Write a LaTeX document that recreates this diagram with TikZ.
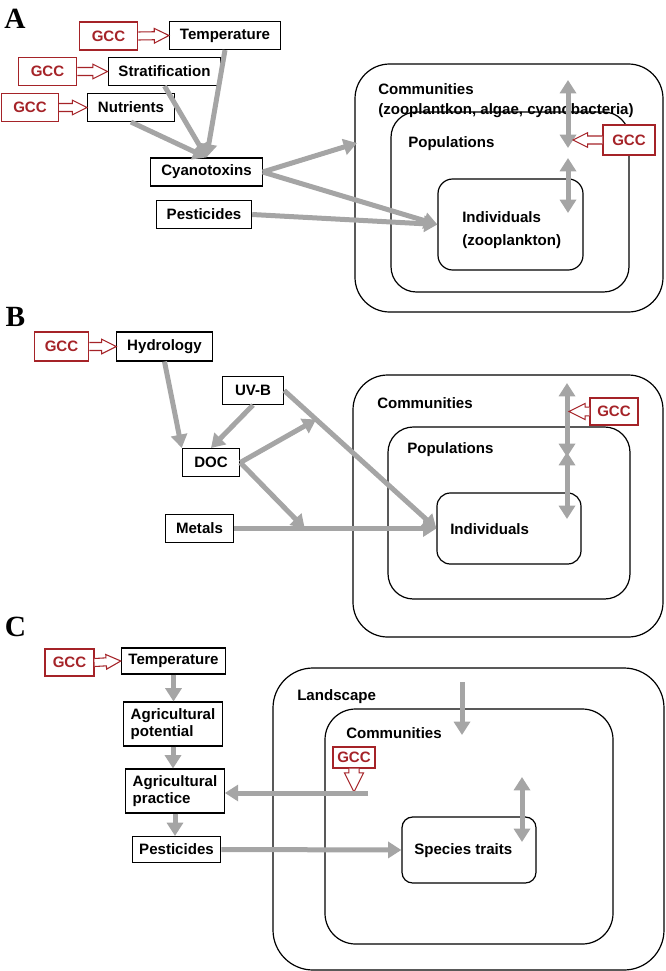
\documentclass[tikz,border=0pt]{standalone}
\usepackage{fontspec}
\setmainfont{Liberation Sans}
\newfontfamily\letterfont{Liberation Serif}
\usetikzlibrary{arrows.meta,calc,fit}

\definecolor{gccred}{RGB}{165,35,40}
\definecolor{flowgray}{RGB}{165,165,165}

% hollow GCC arrow from #2 to #3, #1 scales it
\newcommand{\gccto}[3][1]{%
  \coordinate (gcch) at ($(#3)!#1*11pt!(#2)$);
  \draw[gccline] ($(#2)!#1*3pt!90:(#3)$) -- ($(gcch)!#1*3pt!90:(#3)$)
    -- ($(gcch)!#1*5.5pt!90:(#3)$) -- (#3) -- ($(gcch)!#1*5.5pt!-90:(#3)$)
    -- ($(gcch)!#1*3pt!-90:(#3)$) -- ($(#2)!#1*3pt!-90:(#3)$);}

\begin{document}
\begin{tikzpicture}[x=0.75pt,y=-0.75pt,
    every node/.style={font=\fontsize{11.3}{13}\selectfont\bfseries},
    box/.style={draw, line width=0.8pt, inner xsep=7.8pt, inner ysep=0pt, minimum height=21pt},
    boxc/.style={box, inner xsep=5.3pt, minimum height=19.5pt},
    gcc/.style={draw=gccred, fill=white, text=gccred, line width=0.8pt, inner sep=0pt, minimum height=21pt},
    gccline/.style={draw=gccred, fill=white, line width=0.8pt},
    cont/.style={draw, line width=0.9pt, inner sep=0pt},
    lbl/.style={anchor=west, inner sep=0pt},
    flow/.style={draw=flowgray, line width=3.75pt, -{Triangle[length=10pt,width=12pt]}},
    flow2/.style={flow, {Triangle[length=10pt,width=12pt]}-{Triangle[length=10pt,width=12pt]}},
    panel/.style={font=\letterfont\fontsize{22}{22}\selectfont\bfseries, anchor=base, inner sep=0pt}]
  \useasboundingbox (0,0) rectangle (665,971);

  % A
  \node[panel] (la) at (15,28) {A};
  \node[cont, rounded corners=26pt, fit={(355,64) (663,312)}] (commA) {};
  \node[cont, rounded corners=19pt, fit={(391,112) (629,292)}] (popA) {};
  \node[cont, rounded corners=11pt, fit={(438,179) (583,270)}] (indA) {};
  \node[lbl, align=left, font=\fontsize{11.3}{15}\selectfont\bfseries] (commAl) at (378,101)
    {Communities\\(zooplantkon, algae, cyanobacteria)};
  \node[lbl] (popAl) at (408,144) {Populations};
  \node[lbl, align=left, font=\fontsize{11.3}{17.5}\selectfont\bfseries] (indAl) at (462,230)
    {Individuals\\(zooplankton)};

  \node[box] (tempA) at (225,35.5) {Temperature};
  \node[box] (strat) at (164.5,71.5) {Stratification};
  \node[box] (nutr) at (131,107.5) {Nutrients};
  \node[box] (cyano) at (206.5,172) {Cyanotoxins};
  \node[box] (pestA) at (204,214.5) {Pesticides};

  \draw[flow] (tempA.south) -- (cyano.north);
  \draw[flow] (strat.south) -- (cyano.north);
  \draw[flow] (nutr.south) -- (cyano.north);
  \coordinate (toCommA) at (357,143);
  \draw[flow] (cyano.east) -- (toCommA);
  \draw[flow] (cyano.east) -- (indA.west);
  \draw[flow] (pestA.east) -- (indA.west);
  \coordinate (a1) at (568,80);
  \coordinate (a2) at (568,148);
  \coordinate (a3) at (568,158);
  \coordinate (a4) at (568,213);
  \draw[flow2] (a1) -- (a2);
  \draw[flow2] (a3) -- (a4);

  \node[gcc, minimum width=44pt] (gccT) at (108.5,36) {GCC};
  \node[gcc, minimum width=44pt] (gccS) at (47.5,71.5) {GCC};
  \node[gcc, minimum width=43pt] (gccN) at (30,107.5) {GCC};
  \node[gcc, minimum width=39pt, minimum height=22.5pt] (gccA) at (629,140) {GCC};
  \coordinate (gccAtip) at (573,140);
  \gccto{gccT.east}{tempA.west}
  \gccto{gccS.east}{strat.west}
  \gccto{gccN.east}{nutr.west}
  \gccto{gccA.west}{gccAtip}

  % B
  \node[panel] (lb) at (15.5,326) {B};
  \node[cont, rounded corners=26pt, fit={(353,375) (663,637)}] (commB) {};
  \node[cont, rounded corners=19pt, fit={(388,427) (630,599)}] (popB) {};
  \node[cont, rounded corners=10pt, fit={(437,493) (581,564)}] (indB) {};
  \node[lbl] (commBl) at (377,403) {Communities};
  \node[lbl] (popBl) at (407,450) {Populations};
  \node[lbl] (indBl) at (450,529) {Individuals};

  \node[box, minimum height=21.75pt] (hydro) at (164.5,346.5) {Hydrology};
  \node[box, inner xsep=9.5pt] (uvb) at (253,390.5) {UV-B};
  \node[box, inner xsep=9pt] (doc) at (211,462.5) {DOC};
  \node[box] (metals) at (199.5,528.5) {Metals};

  \draw[flow] (hydro.south) -- (doc.north west);
  \draw[flow] (uvb.south) -- (doc.north);
  \coordinate (uvmid) at ($(uvb.east)!0.21!(indB.west)$);
  \coordinate (metmid) at ($(metals.east)!0.35!(indB.west)$);
  \draw[flow] (uvb.east) -- (indB.west);
  \draw[flow] (metals.east) -- (indB.west);
  \draw[flow] (doc.east) -- (uvmid);
  \draw[flow] (doc.east) -- (metmid);
  \coordinate (b1) at (567,383);
  \coordinate (b2) at (567,457);
  \coordinate (b3) at (567,452);
  \coordinate (b4) at (567,519);
  \draw[flow2] (b1) -- (b2);
  \draw[flow2] (b3) -- (b4);

  \node[gcc, minimum width=41pt, minimum height=21.75pt] (gccH) at (61.5,346.5) {GCC};
  \node[gcc, minimum width=36pt, minimum height=20.25pt] (gccB) at (614,411.5) {GCC};
  \coordinate (gccBtip) at (569,411.5);
  \gccto{gccH.east}{hydro.west}
  \gccto[1.1]{gccB.west}{gccBtip}

  % C
  \node[panel] (lc) at (15.5,636) {C};
  \node[cont, rounded corners=30pt, fit={(273,668) (664,970)}] (land) {};
  \node[cont, rounded corners=23pt, fit={(325,709) (613,944)}] (commC) {};
  \node[cont, rounded corners=8pt, fit={(402,817) (536,883)}] (traits) {};
  \node[lbl] (landl) at (297,697) {Landscape};
  \node[lbl] (commCl) at (346,733) {Communities};
  \node[lbl] (traitsl) at (414,851) {Species traits};

  \node[boxc] (tempC) at (173.5,661) {Temperature};
  \node[boxc, minimum height=33pt, align=left] (agpot) at (173,724) {Agricultural\\potential};
  \node[boxc, minimum height=33pt, align=left] (agpra) at (175,791) {Agricultural\\practice};
  \node[boxc] (pestC) at (176.5,849.5) {Pesticides};

  \node[gcc, minimum width=36.75pt, minimum height=20.25pt] (gccTC) at (69.5,662.5) {GCC};
  \node[gcc, minimum width=31.5pt, minimum height=15.75pt] (gccL) at (354,757.5) {GCC};
  \coordinate (gccLtip) at (354,792);
  \gccto{gccTC.east}{tempC.west}
  \gccto[1.3]{gccL.south}{gccLtip}

  \draw[flow] (tempC.south) -- (tempC.south |- agpot.north);
  \draw[flow] (agpot.south) -- (agpot.south |- agpra.north);
  \draw[flow] (agpra.south) -- (agpra.south |- pestC.north);
  \coordinate (ctrl) at (368,793);
  \draw[flow] (ctrl) -- (ctrl -| agpra.east);
  \draw[flow] (pestC.east) -- (traits.west);
  \coordinate (c1) at (462,682);
  \coordinate (c2) at (462,735);
  \coordinate (c3) at (522,777);
  \coordinate (c4) at (522,842);
  \draw[flow] (c1) -- (c2);
  \draw[flow2] (c3) -- (c4);
\end{tikzpicture}
\end{document}
